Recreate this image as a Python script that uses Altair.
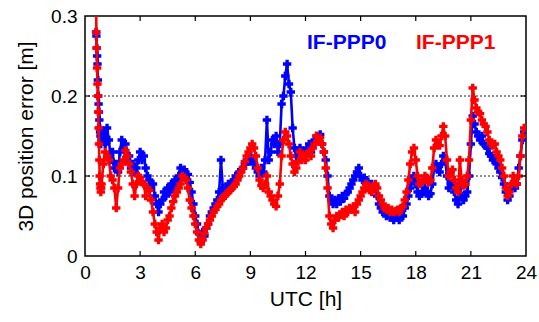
import altair as alt
import numpy as np
import pandas as pd

# Convergence right after start-up, sampled finely (hours, metres)
start_hours = [0.60, 0.62, 0.64, 0.66, 0.68, 0.70, 0.72, 0.74, 0.76, 0.78,
               0.80, 0.82, 0.84, 0.86, 0.88]
ppp0_start = [0.280, 0.275, 0.260, 0.250, 0.240, 0.220, 0.200, 0.190, 0.180, 0.170,
              0.160, 0.155, 0.150, 0.140, 0.150]
ppp1_start = [0.330, 0.280, 0.260, 0.235, 0.215, 0.200, 0.180, 0.160, 0.140, 0.120,
              0.100, 0.090, 0.085, 0.080, 0.085]

# Regular 6-minute epochs from 0.9 h to 23.9 h
grid_start, grid_step = 0.9, 0.1
ppp0_values = [
    0.145, 0.155, 0.140, 0.160, 0.145, 0.120, 0.130, 0.110, 0.115, 0.105,
    0.130, 0.145, 0.135, 0.140, 0.120, 0.125, 0.110, 0.115, 0.105, 0.110,
    0.120, 0.130, 0.120, 0.125, 0.110, 0.100, 0.095, 0.085, 0.090, 0.075,
    0.065, 0.055, 0.065, 0.070, 0.080, 0.075, 0.085, 0.080, 0.090, 0.085,
    0.095, 0.090, 0.100, 0.110, 0.105, 0.108, 0.100, 0.102, 0.092, 0.080,
    0.065, 0.050, 0.040, 0.028, 0.018, 0.030, 0.025, 0.035, 0.040, 0.050,
    0.055, 0.060, 0.065, 0.070, 0.080, 0.120, 0.085, 0.080, 0.085, 0.090,
    0.088, 0.092, 0.095, 0.100, 0.098, 0.105, 0.108, 0.110, 0.115, 0.120,
    0.118, 0.125, 0.120, 0.115, 0.110, 0.105, 0.100, 0.110, 0.105, 0.120,
    0.170, 0.120, 0.130, 0.145, 0.140, 0.150, 0.130, 0.140, 0.190, 0.200,
    0.225, 0.240, 0.215, 0.205, 0.160, 0.135, 0.125, 0.130, 0.135, 0.125,
    0.130, 0.128, 0.135, 0.140, 0.130, 0.140, 0.145, 0.150, 0.148, 0.152,
    0.140, 0.130, 0.120, 0.100, 0.075, 0.070, 0.065, 0.070, 0.065, 0.072,
    0.068, 0.075, 0.072, 0.078, 0.080, 0.085, 0.090, 0.095, 0.100, 0.105,
    0.110, 0.100, 0.095, 0.098, 0.090, 0.093, 0.088, 0.090, 0.085, 0.087,
    0.075, 0.065, 0.060, 0.055, 0.058, 0.050, 0.055, 0.048, 0.050, 0.045,
    0.048, 0.050, 0.045, 0.052, 0.050, 0.060, 0.065, 0.075, 0.085, 0.095,
    0.100, 0.090, 0.080, 0.075, 0.078, 0.080, 0.085, 0.080, 0.075, 0.078,
    0.090, 0.110, 0.115, 0.110, 0.105, 0.115, 0.125, 0.120, 0.100, 0.085,
    0.090, 0.088, 0.080, 0.070, 0.065, 0.090, 0.075, 0.070, 0.075, 0.080,
    0.100, 0.140, 0.175, 0.165, 0.155, 0.150, 0.145, 0.150, 0.140, 0.138,
    0.135, 0.128, 0.125, 0.120, 0.122, 0.115, 0.110, 0.105, 0.098, 0.090,
    0.080, 0.070, 0.075, 0.085, 0.090, 0.085, 0.090, 0.110, 0.125, 0.145,
    0.155,
]
ppp1_values = [
    0.090, 0.115, 0.130, 0.125, 0.120, 0.100, 0.095, 0.085, 0.060, 0.085,
    0.110, 0.115, 0.120, 0.132, 0.125, 0.115, 0.105, 0.090, 0.075, 0.090,
    0.100, 0.098, 0.092, 0.090, 0.075, 0.085, 0.082, 0.070, 0.055, 0.040,
    0.030, 0.020, 0.035, 0.040, 0.030, 0.035, 0.045, 0.050, 0.060, 0.068,
    0.075, 0.080, 0.085, 0.090, 0.100, 0.098, 0.095, 0.085, 0.070, 0.060,
    0.050, 0.040, 0.030, 0.020, 0.015, 0.020, 0.028, 0.035, 0.040, 0.045,
    0.050, 0.055, 0.058, 0.062, 0.065, 0.070, 0.072, 0.075, 0.078, 0.080,
    0.082, 0.085, 0.087, 0.090, 0.095, 0.100, 0.105, 0.110, 0.118, 0.125,
    0.130, 0.135, 0.140, 0.135, 0.125, 0.110, 0.095, 0.088, 0.085, 0.090,
    0.100, 0.080, 0.075, 0.070, 0.065, 0.062, 0.075, 0.090, 0.125, 0.145,
    0.155, 0.150, 0.140, 0.125, 0.115, 0.105, 0.110, 0.118, 0.130, 0.120,
    0.125, 0.120, 0.128, 0.130, 0.125, 0.135, 0.140, 0.150, 0.145, 0.148,
    0.140, 0.130, 0.110, 0.085, 0.050, 0.040, 0.035, 0.045, 0.050, 0.048,
    0.052, 0.055, 0.050, 0.058, 0.055, 0.060, 0.058, 0.062, 0.055, 0.065,
    0.070, 0.075, 0.080, 0.085, 0.090, 0.088, 0.082, 0.080, 0.085, 0.090,
    0.085, 0.075, 0.070, 0.065, 0.060, 0.058, 0.060, 0.055, 0.058, 0.055,
    0.056, 0.058, 0.055, 0.060, 0.062, 0.070, 0.080, 0.095, 0.115, 0.130,
    0.135, 0.120, 0.100, 0.090, 0.092, 0.095, 0.100, 0.098, 0.092, 0.095,
    0.110, 0.135, 0.145, 0.140, 0.138, 0.150, 0.162, 0.150, 0.120, 0.100,
    0.105, 0.108, 0.095, 0.085, 0.080, 0.120, 0.095, 0.088, 0.090, 0.100,
    0.120, 0.170, 0.210, 0.195, 0.185, 0.180, 0.178, 0.170, 0.165, 0.162,
    0.155, 0.145, 0.140, 0.138, 0.140, 0.130, 0.125, 0.120, 0.110, 0.100,
    0.085, 0.075, 0.080, 0.090, 0.100, 0.092, 0.090, 0.100, 0.125, 0.150,
    0.160,
]

x_ticks = [0, 3, 6, 9, 12, 15, 18, 21, 24]
y_ticks = [0, 0.1, 0.2, 0.3]
grid_levels = [0.1, 0.2]

FONT = "Liberation Sans"
BLUE = "#0000ff"
RED = "#ff0000"


def series_frame(values, start_values):
    hours = np.round(grid_start + grid_step * np.arange(len(values)), 2)
    return pd.DataFrame({
        "hour": list(start_hours) + list(hours),
        "err": list(start_values) + list(values),
    })


ppp0 = series_frame(ppp0_values, ppp0_start)
ppp1 = series_frame(ppp1_values, ppp1_start)

x_scale = alt.Scale(domain=[0, 24], nice=False, zero=False)
y_scale = alt.Scale(domain=[0, 0.3], nice=False)

x_axis = alt.Axis(values=x_ticks, title="UTC [h]", ticks=False, domain=False,
                  grid=False, labelFontSize=19, labelPadding=7,
                  titleFontSize=21, titlePadding=6, labelFlush=False)
y_axis = alt.Axis(values=y_ticks, title="3D position error [m]", ticks=False,
                  domain=False, grid=False, labelFontSize=19, labelPadding=8,
                  titleFontSize=21, titlePadding=14,
                  labelExpr="datum.value == 0 ? '0' : format(datum.value, '.1f')")

X = alt.X("hour:Q", scale=x_scale, axis=x_axis)
Y = alt.Y("err:Q", scale=y_scale, axis=y_axis)

grid = alt.Chart(pd.DataFrame({"lvl": grid_levels})).mark_rule(
    color="#222222", strokeWidth=1, strokeDash=[2, 2]
).encode(y=alt.Y("lvl:Q", scale=y_scale))


def series_layers(df, color):
    line = alt.Chart(df).mark_line(color=color, strokeWidth=2.6, clip=True).encode(
        x=X, y=Y)
    pts = alt.Chart(df).mark_point(shape="cross", filled=True, color=color,
                                   size=70, opacity=1, clip=True).encode(x=X, y=Y)
    return line + pts


# inward tick marks on all four sides of the frame
xt = pd.DataFrame({"t": x_ticks[1:-1]})
yt = pd.DataFrame({"t": y_ticks[1:-1]})
tick_style = dict(color="black", strokeWidth=1.2)
ticks_bottom = alt.Chart(xt).mark_rule(**tick_style).encode(
    x=alt.X("t:Q", scale=x_scale), y=alt.value(240), y2=alt.value(235))
ticks_top = alt.Chart(xt).mark_rule(**tick_style).encode(
    x=alt.X("t:Q", scale=x_scale), y=alt.value(0), y2=alt.value(5))
ticks_left = alt.Chart(yt).mark_rule(**tick_style).encode(
    y=alt.Y("t:Q", scale=y_scale), x=alt.value(0), x2=alt.value(5))
ticks_right = alt.Chart(yt).mark_rule(**tick_style).encode(
    y=alt.Y("t:Q", scale=y_scale), x=alt.value(441), x2=alt.value(436))

legend0 = alt.Chart(pd.DataFrame({"s": ["IF-PPP0"]})).mark_text(
    font=FONT, fontSize=21, fontWeight="bold", color=BLUE, align="left",
    baseline="alphabetic"
).encode(text="s:N", x=alt.value(222), y=alt.value(33))
legend1 = alt.Chart(pd.DataFrame({"s": ["IF-PPP1"]})).mark_text(
    font=FONT, fontSize=21, fontWeight="bold", color=RED, align="left",
    baseline="alphabetic"
).encode(text="s:N", x=alt.value(331), y=alt.value(33))

chart = alt.layer(
    grid,
    series_layers(ppp0, BLUE),
    series_layers(ppp1, RED),
    ticks_bottom, ticks_top, ticks_left, ticks_right,
    legend0, legend1,
).properties(
    width=441, height=240,
    autosize=alt.AutoSizeParams(type="none"),
    padding={"left": 85, "top": 16, "right": 13, "bottom": 66},
    background="white",
).configure_view(
    stroke="black", strokeWidth=1.5
).configure_axis(
    labelFont=FONT, titleFont=FONT, labelColor="black", titleColor="black",
    titleFontWeight="normal"
)

chart.save("out.html", embed_options={"renderer": "svg", "actions": False})
